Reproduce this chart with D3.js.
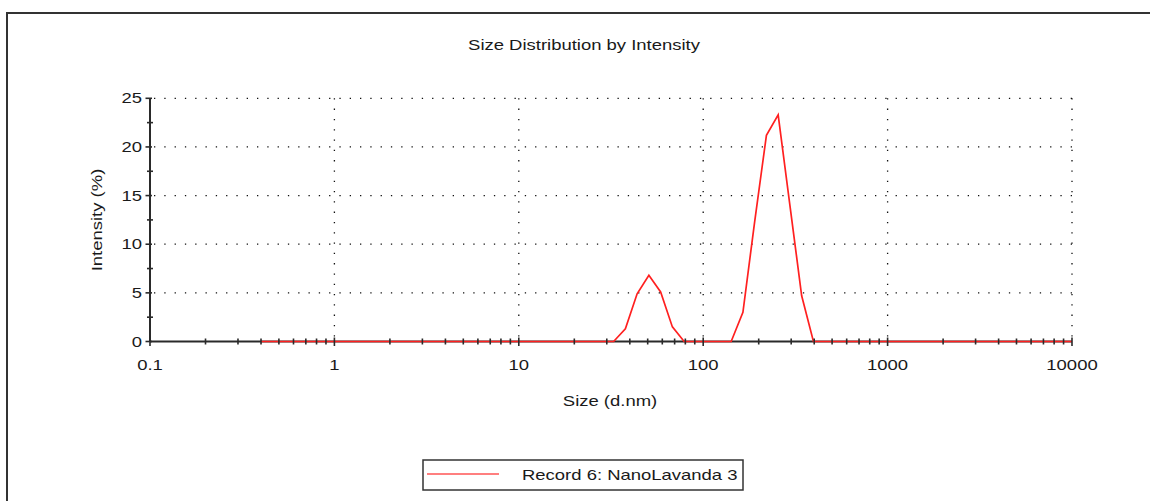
<!DOCTYPE html>
<html>
<head>
<meta charset="utf-8">
<script src="https://cdn.jsdelivr.net/npm/d3@7"></script>
<style>
  html, body { margin: 0; padding: 0; background: #fff; overflow: hidden; }
  svg { display: block; }
  text { font-family: "Liberation Sans", Arial, sans-serif; font-size: 14px; fill: #1a1a1a; }
</style>
</head>
<body>
<svg id="chart" width="1150" height="501"></svg>
<script>
// Size classes (d.nm) of the distribution
const sizes = [
  0.4, 0.4632, 0.5365, 0.6213, 0.7195, 0.8332, 0.9649, 1.117, 1.294, 1.499,
  1.736, 2.010, 2.328, 2.696, 3.122, 3.615, 4.187, 4.849, 5.615, 6.503,
  7.531, 8.721, 10.10, 11.70, 13.54, 15.69, 18.17, 21.04, 24.36, 28.21,
  32.67, 37.84, 43.82, 50.75, 58.77, 68.06, 78.82, 91.28, 105.7, 122.4,
  141.8, 164.2, 190.1, 220.2, 255.0, 295.3, 342.0, 396.1, 458.7, 531.2,
  615.1, 712.4, 825.0, 955.4, 1106, 1281, 1484, 1718, 1990, 2305,
  2669, 3091, 3580, 4145, 4801, 5560, 6439, 7456, 8635, 10000
];

// Intensity (%) for each size class
const intensity = [
  0, 0, 0, 0, 0, 0, 0, 0, 0, 0,
  0, 0, 0, 0, 0, 0, 0, 0, 0, 0,
  0, 0, 0, 0, 0, 0, 0, 0, 0, 0,
  0, 1.3, 4.9, 6.8, 5.1, 1.5, 0, 0, 0, 0,
  0, 3.0, 12.3, 21.2, 23.3, 14.0, 4.7, 0, 0, 0,
  0, 0, 0, 0, 0, 0, 0, 0, 0, 0,
  0, 0, 0, 0, 0, 0, 0, 0, 0, 0
];

const xTickValues = [0.1, 1, 10, 100, 1000, 10000];
const xTickLabels = ["0.1", "1", "10", "100", "1000", "10000"];
const yTickValues = [0, 5, 10, 15, 20, 25];
const yMinorValues = [2.5, 7.5, 12.5, 17.5, 22.5];

const chartTitle = "Size Distribution by Intensity";
const xTitle = "Size (d.nm)";
const yTitle = "Intensity (%)";
const seriesName = "Record 6: NanoLavanda 3";

// Plot geometry
const plot = { left: 150, right: 1072, top: 98.3, bottom: 341.5 };
const stretch = 1.32;          // wide glyph rendering of the instrument font
const axisColor = "#2a2a2a";
const lineColor = "#ff2020";

const svg = d3.select("#chart");

const x = d3.scaleLog().domain([0.1, 10000]).range([plot.left, plot.right]);
const y = d3.scaleLinear().domain([0, 25]).range([plot.bottom, plot.top]);

// Horizontally widened text label
function label(g, tx, ty, str, anchor, rotate) {
  const t = g.append("g")
    .attr("transform", `translate(${tx},${ty})` + (rotate ? ` rotate(${rotate})` : "") + ` scale(${stretch},1)`);
  t.append("text").attr("text-anchor", anchor || "middle").text(str);
  return t;
}

// Outer frame: top and left edges of the report panel
svg.append("path")
  .attr("d", "M7,501V13H1150")
  .attr("fill", "none").attr("stroke", "#333").attr("stroke-width", 2);

// Title
label(svg, 584, 50, chartTitle, "middle");

// Dotted grid
const grid = svg.append("g")
  .attr("stroke", "#111").attr("stroke-width", 1.3).attr("stroke-dasharray", "1.3 9");
grid.selectAll("line.h").data(yTickValues.filter(v => v > 0)).join("line")
  .attr("class", "h")
  .attr("x1", plot.left + 4).attr("x2", plot.right)
  .attr("y1", d => y(d)).attr("y2", d => y(d));
grid.selectAll("line.v").data(xTickValues.filter(v => v > 0.1)).join("line")
  .attr("class", "v")
  .attr("x1", d => x(d)).attr("x2", d => x(d))
  .attr("y1", plot.top).attr("y2", plot.bottom - 4);

// Axis lines
svg.append("line")
  .attr("x1", plot.left).attr("x2", plot.left)
  .attr("y1", plot.top).attr("y2", plot.bottom)
  .attr("stroke", axisColor).attr("stroke-width", 2);
svg.append("line")
  .attr("x1", plot.left).attr("x2", plot.right)
  .attr("y1", plot.bottom).attr("y2", plot.bottom)
  .attr("stroke", axisColor).attr("stroke-width", 2);

// Distribution curve
const line = d3.line().x((d, i) => x(sizes[i])).y(d => y(d));
svg.append("path")
  .datum(intensity)
  .attr("d", line)
  .attr("fill", "none")
  .attr("stroke", lineColor)
  .attr("stroke-width", 1.7)
  .attr("stroke-linejoin", "miter");

// Ticks on top of the curve
const ticks = svg.append("g").attr("stroke", axisColor).attr("stroke-width", 1.6);
const xMinor = x.ticks().filter(v => !xTickValues.includes(v));
ticks.selectAll("line.xmin").data(xMinor).join("line")
  .attr("x1", d => x(d)).attr("x2", d => x(d))
  .attr("y1", plot.bottom - 3).attr("y2", plot.bottom + 3);
ticks.selectAll("line.xmaj").data(xTickValues).join("line")
  .attr("x1", d => x(d)).attr("x2", d => x(d))
  .attr("y1", plot.bottom - 4).attr("y2", plot.bottom + 4.5);
ticks.selectAll("line.ymaj").data(yTickValues).join("line")
  .attr("x1", plot.left - 4.5).attr("x2", plot.left + 2)
  .attr("y1", d => y(d)).attr("y2", d => y(d));
ticks.selectAll("line.ymin").data(yMinorValues).join("line")
  .attr("x1", plot.left - 3).attr("x2", plot.left + 3)
  .attr("y1", d => y(d)).attr("y2", d => y(d));

// Tick labels
xTickValues.forEach((v, i) => label(svg, x(v), 370, xTickLabels[i], "middle"));
yTickValues.forEach(v => label(svg, 142, y(v) + 5, String(v), "end"));

// Axis titles
label(svg, 610, 406, xTitle, "middle");
label(svg, 102, 220, yTitle, "middle", -90);

// Legend
const legend = svg.append("g");
legend.append("rect")
  .attr("x", 423).attr("y", 460).attr("width", 320).attr("height", 30)
  .attr("fill", "#fff").attr("stroke", "#333").attr("stroke-width", 1.5);
legend.append("line")
  .attr("x1", 427).attr("x2", 499).attr("y1", 474).attr("y2", 474)
  .attr("stroke", "#ff0000").attr("stroke-width", 1.2);
label(legend, 522, 480, seriesName, "start");
</script>
</body>
</html>
